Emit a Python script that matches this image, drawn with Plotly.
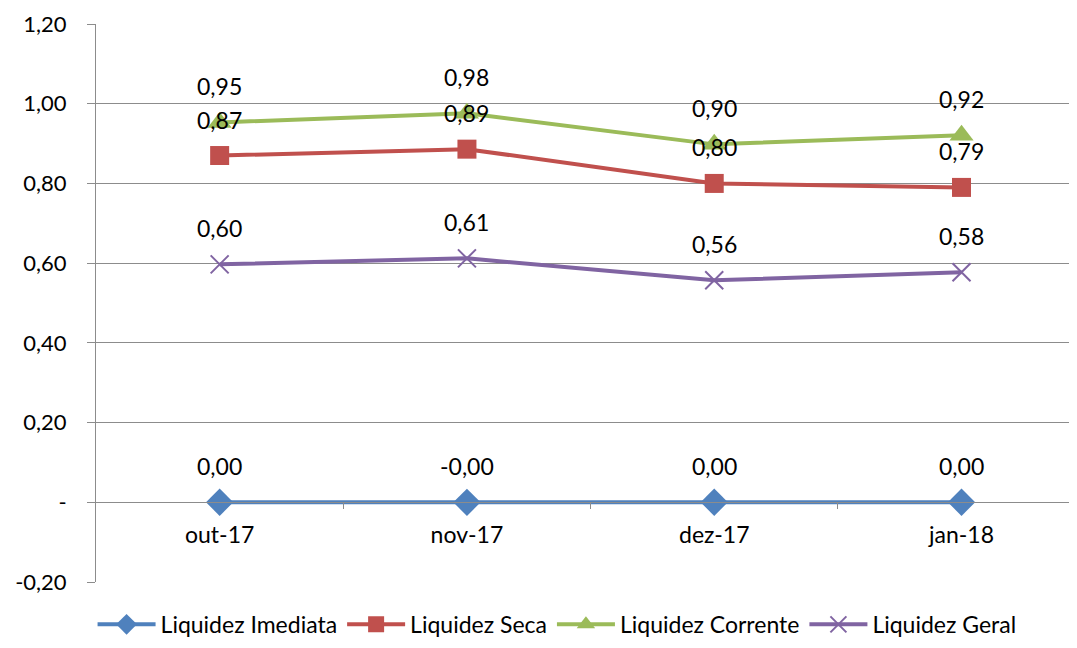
import plotly.graph_objects as go

categories = ["out-17", "nov-17", "dez-17", "jan-18"]
imediata = [0.0001, -0.0001, 0.0001, 0.0001]
seca = [0.87, 0.886, 0.80, 0.79]
corrente = [0.953, 0.976, 0.898, 0.921]
geral = [0.597, 0.612, 0.557, 0.577]
tick_vals = [-0.2, 0, 0.2, 0.4, 0.6, 0.8, 1.0, 1.2]
tick_text = ["-0,20", "-", "0,20", "0,40", "0,60", "0,80", "1,00", "1,20"]

series = [
    ("Liquidez Imediata", imediata, "#4F81BD", "diamond", 21),
    ("Liquidez Seca", seca, "#C0504D", "square", 19),
    ("Liquidez Corrente", corrente, "#9BBB59", "triangle-up", 21),
    ("Liquidez Geral", geral, "#8064A2", "x-thin-open", 18),
]

FONT = "Lato, 'Open Sans', sans-serif"

def fmt(v):
    return f"{v:.2f}".replace(".", ",")

fig = go.Figure()
annotations = []
xs = list(range(len(categories)))
for name, vals, color, sym, size in series:
    marker = dict(symbol=sym, size=size, color=color)
    if sym == "x-thin-open":
        marker["line"] = dict(color=color, width=2)
    fig.add_trace(go.Scatter(
        x=xs, y=vals, name=name, mode="lines+markers",
        line=dict(color=color, width=4), marker=marker,
    ))
    for x, v in zip(xs, vals):
        annotations.append(dict(
            x=x, y=v, text=fmt(v), showarrow=False, yshift=36,
            xref="x", yref="y", font=dict(family=FONT, size=23, color="#000000"),
        ))

ymin, ymax = -0.2, 1.2
zero_pos = (0 - ymin) / (ymax - ymin)

fig.update_layout(
    width=1069, height=632,
    margin=dict(l=88, r=0, t=16, b=58, autoexpand=False),
    paper_bgcolor="white", plot_bgcolor="white",
    font=dict(family=FONT, size=22, color="#000000"),
    annotations=annotations,
    showlegend=True,
    legend=dict(orientation="h", x=0.47, xanchor="center", y=-0.076, yanchor="middle",
                font=dict(family=FONT, size=23), tracegroupgap=0, itemwidth=58),
    xaxis=dict(
        range=[-0.5, 3.467], tickvals=xs, ticktext=categories,
        showgrid=False, zeroline=False,
        anchor="free", position=zero_pos,
        showline=True, linecolor="#8c8c8c", linewidth=1,
        ticks="", ticklabelstandoff=12,
        tickfont=dict(family=FONT, size=23),
    ),
    yaxis=dict(
        range=[ymin, ymax], tickvals=tick_vals, ticktext=tick_text,
        showgrid=True, gridcolor="#8c8c8c", gridwidth=1,
        zeroline=False, showline=True, linecolor="#8c8c8c", linewidth=1,
        ticks="outside", ticklen=8, tickcolor="#8c8c8c",
        ticklabelstandoff=16,
        tickfont=dict(family=FONT, size=22),
    ),
)

fig.update_layout(xaxis2=dict(
    range=[-0.5, 3.467], overlaying="x", anchor="free", position=zero_pos,
    tickvals=[0.5, 1.5, 2.5], ticktext=["", "", ""], ticks="outside", ticklen=6,
    tickcolor="#8c8c8c", showgrid=False, zeroline=False, showline=False,
))
fig.add_trace(go.Scatter(x=[None], y=[None], xaxis="x2", showlegend=False, hoverinfo="skip"))

fig.write_html("out.html")
